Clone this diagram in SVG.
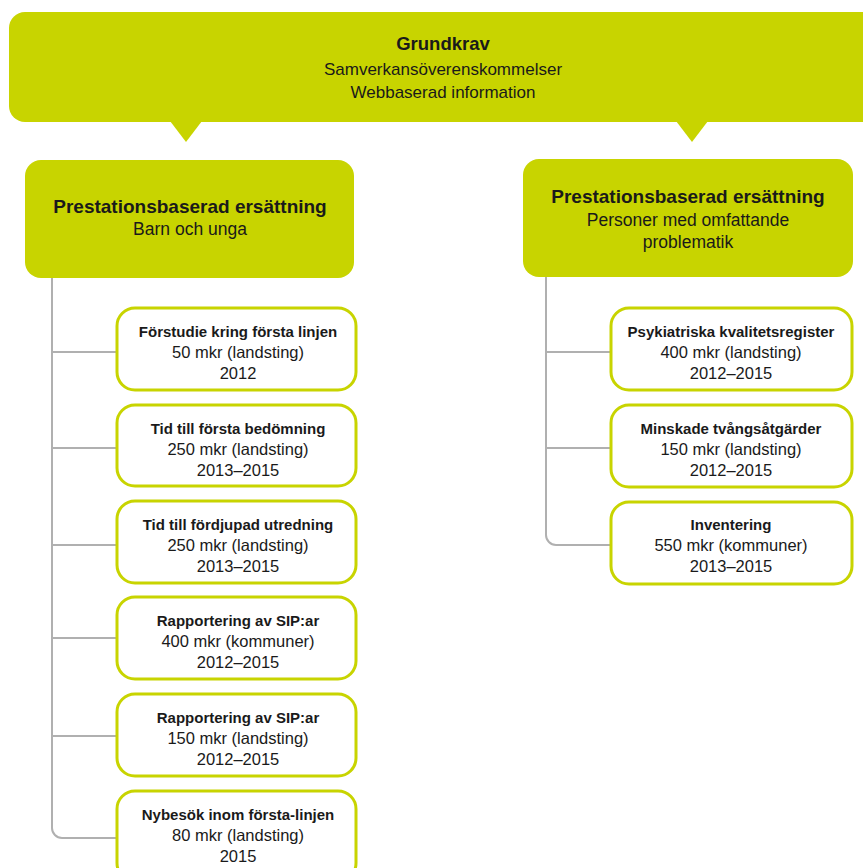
<svg xmlns="http://www.w3.org/2000/svg" width="863" height="868" viewBox="0 0 863 868">
<style>
text{font-family:"Liberation Sans",Arial,sans-serif;fill:#1a1a1a;text-anchor:middle}
.h{font-weight:bold;font-size:18.5px}
.hs{font-size:17px}
.ph{font-weight:bold;font-size:19px}
.ps{font-size:17.5px}
.ct{font-weight:bold;font-size:15px}
.cs{font-size:16.5px}
.hdr{fill:#c8d400}
.child{fill:#ffffff;stroke:#c8d400;stroke-width:3}
.con{fill:none;stroke:#b0b0b0;stroke-width:2}
</style>
<rect width="863" height="868" fill="#ffffff"/>
<g id="grundkrav">
<rect class="hdr" x="9" y="12" width="880" height="110" rx="16"/>
<polygon class="hdr" points="170,121 202,121 186,142"/>
<polygon class="hdr" points="676,121 708,121 692,142"/>
<text class="h" x="443" y="50">Grundkrav</text>
<text class="hs" x="443" y="75">Samverkansöverenskommelser</text>
<text class="hs" x="443" y="98">Webbaserad information</text>
</g>
<g id="connectors">
<path class="con" d="M52,278 V828 a10,10 0 0 0 10,10 H117"/>
<path class="con" d="M52,352 H117 M52,448 H117 M52,545 H117 M52,638 H117 M52,736 H117"/>
<path class="con" d="M546,277 V535 a10,10 0 0 0 10,10 H611"/>
<path class="con" d="M546,352 H611 M546,448 H611"/>
</g>
<g id="barn">
<rect class="hdr" x="25" y="160" width="329" height="118" rx="16"/>
<text class="ph" x="190" y="213">Prestationsbaserad ersättning</text>
<text class="ps" x="190" y="235">Barn och unga</text>
</g>
<g id="personer">
<rect class="hdr" x="523" y="159" width="330" height="118" rx="16"/>
<text class="ph" x="688" y="203">Prestationsbaserad ersättning</text>
<text class="ps" x="688" y="226">Personer med omfattande</text>
<text class="ps" x="688" y="248">problematik</text>
</g>
<g id="l1">
<rect class="child" x="117" y="308" width="239" height="82" rx="18"/>
<text class="ct" x="238" y="337">Förstudie kring första linjen</text>
<text class="cs" x="238" y="358">50 mkr (landsting)</text>
<text class="cs" x="238" y="379">2012</text>
</g>
<g id="l2">
<rect class="child" x="117" y="405" width="239" height="81" rx="18"/>
<text class="ct" x="238" y="434">Tid till första bedömning</text>
<text class="cs" x="238" y="455">250 mkr (landsting)</text>
<text class="cs" x="238" y="476">2013–2015</text>
</g>
<g id="l3">
<rect class="child" x="117" y="501" width="239" height="82" rx="18"/>
<text class="ct" x="238" y="530">Tid till fördjupad utredning</text>
<text class="cs" x="238" y="551">250 mkr (landsting)</text>
<text class="cs" x="238" y="572">2013–2015</text>
</g>
<g id="l4">
<rect class="child" x="117" y="597" width="239" height="82" rx="18"/>
<text class="ct" x="238" y="626">Rapportering av SIP:ar</text>
<text class="cs" x="238" y="647">400 mkr (kommuner)</text>
<text class="cs" x="238" y="668">2012–2015</text>
</g>
<g id="l5">
<rect class="child" x="117" y="694" width="239" height="82" rx="18"/>
<text class="ct" x="238" y="723">Rapportering av SIP:ar</text>
<text class="cs" x="238" y="744">150 mkr (landsting)</text>
<text class="cs" x="238" y="765">2012–2015</text>
</g>
<g id="l6">
<rect class="child" x="117" y="791" width="239" height="90" rx="18"/>
<text class="ct" x="238" y="820">Nybesök inom första-linjen</text>
<text class="cs" x="238" y="841">80 mkr (landsting)</text>
<text class="cs" x="238" y="862">2015</text>
</g>
<g id="r1">
<rect class="child" x="611" y="308" width="241" height="82" rx="18"/>
<text class="ct" x="731" y="337">Psykiatriska kvalitetsregister</text>
<text class="cs" x="731" y="358">400 mkr (landsting)</text>
<text class="cs" x="731" y="379">2012–2015</text>
</g>
<g id="r2">
<rect class="child" x="611" y="405" width="241" height="82" rx="18"/>
<text class="ct" x="731" y="434">Minskade tvångsåtgärder</text>
<text class="cs" x="731" y="455">150 mkr (landsting)</text>
<text class="cs" x="731" y="476">2012–2015</text>
</g>
<g id="r3">
<rect class="child" x="611" y="502" width="241" height="82" rx="18"/>
<text class="ct" x="731" y="530">Inventering</text>
<text class="cs" x="731" y="551">550 mkr (kommuner)</text>
<text class="cs" x="731" y="572">2013–2015</text>
</g>
</svg>
